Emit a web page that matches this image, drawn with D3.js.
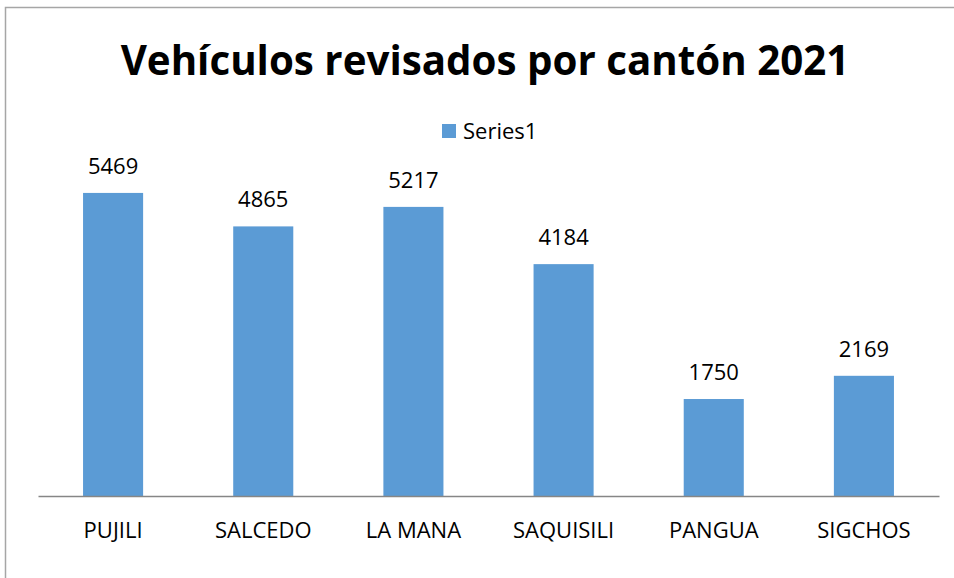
<!DOCTYPE html>
<html>
<head>
<meta charset="utf-8">
<script src="https://cdn.jsdelivr.net/npm/d3@7"></script>
<style>
  body { margin: 0; background: #fff; }
  text { font-family: "Open Sans", sans-serif; fill: #000; }
</style>
</head>
<body>
<svg id="chart" width="954" height="578"></svg>
<script>
// chart data
var cantones = ["PUJILI", "SALCEDO", "LA MANA", "SAQUISILI", "PANGUA", "SIGCHOS"];
var vehiculos = [5469, 4865, 5217, 4184, 1750, 2169];
var serieNombre = "Series1";
var titulo = "Vehículos revisados por cantón 2021";

var svg = d3.select("#chart");

// outer frame (cut off at right/bottom like the picture)
svg.append("rect")
    .attr("x", 5.5).attr("y", 7.5)
    .attr("width", 1000).attr("height", 1000)
    .attr("fill", "none")
    .attr("stroke", "#a6a6a6")
    .attr("stroke-width", 1.5);

var left = 38, right = 939, base = 496;

var x = d3.scaleBand()
    .domain(cantones)
    .range([left, right])
    .paddingInner(0.6)
    .paddingOuter(0.3);

var y = d3.scaleLinear()
    .domain([0, 6000])
    .range([base, 163.5]);

// bars
svg.selectAll("rect.bar")
    .data(vehiculos)
  .enter().append("rect")
    .attr("class", "bar")
    .attr("x", function(d, i) { return x(cantones[i]); })
    .attr("y", function(d) { return y(d); })
    .attr("width", x.bandwidth())
    .attr("height", function(d) { return base - y(d); })
    .attr("fill", "#5b9bd5");

// value labels
svg.selectAll("text.val")
    .data(vehiculos)
  .enter().append("text")
    .attr("class", "val")
    .attr("x", function(d, i) { return x(cantones[i]) + x.bandwidth() / 2; })
    .attr("y", function(d) { return y(d) - 19; })
    .attr("text-anchor", "middle")
    .style("font-size", "22px")
    .text(function(d) { return d; });

// x axis
var xAxis = svg.append("g")
    .attr("transform", "translate(0," + base + ")")
    .call(d3.axisBottom(x).tickSize(0).tickPadding(0));
xAxis.select(".domain").attr("stroke", "#868686").attr("stroke-width", 1.5);
xAxis.selectAll("text")
    .attr("y", 42).attr("dy", 0)
    .style("font-family", "Open Sans, sans-serif")
    .style("font-size", "22px")
    .attr("fill", "#000");

// title
svg.append("text")
    .attr("x", 485)
    .attr("y", 75)
    .attr("text-anchor", "middle")
    .style("font-size", "40.3px")
    .style("font-weight", "bold")
    .text(titulo);

// legend
svg.append("rect")
    .attr("x", 442).attr("y", 124)
    .attr("width", 14).attr("height", 14)
    .attr("fill", "#5b9bd5");
svg.append("text")
    .attr("x", 463).attr("y", 139)
    .style("font-size", "22px")
    .text(serieNombre);
</script>
</body>
</html>
